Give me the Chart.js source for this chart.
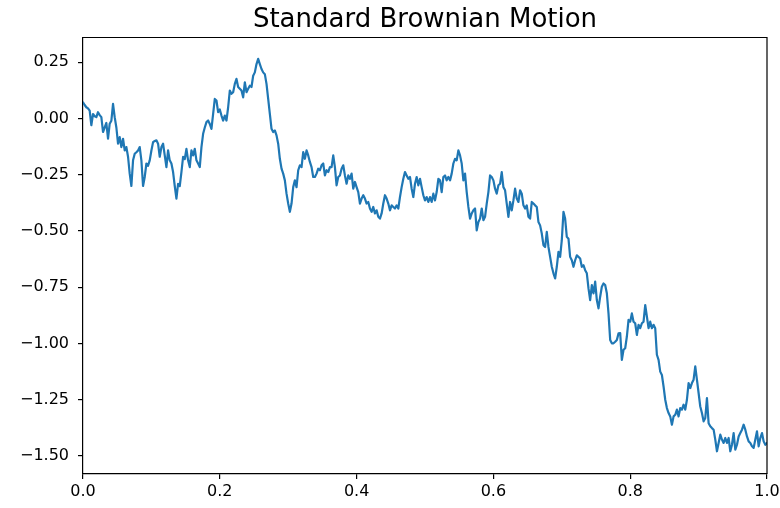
<!DOCTYPE html>
<html>
<head>
<meta charset="utf-8">
<title>Standard Brownian Motion</title>
<script src="https://cdn.jsdelivr.net/npm/chart.js@4/dist/chart.umd.min.js"></script>
<style>
  html, body { margin: 0; padding: 0; background: #fff; }
  #wrap { width: 780px; height: 508px; }
</style>
</head>
<body>
<div id="wrap"><canvas id="chart" width="780" height="508"></canvas></div>
<script>
// Title and axis ticks
const chartTitle = 'Standard Brownian Motion';
const xTicks = [0.0, 0.2, 0.4, 0.6, 0.8, 1.0];
const yTicks = [-1.50, -1.25, -1.00, -0.75, -0.50, -0.25, 0.00, 0.25];
const xRange = [0, 1];
const yRange = [-1.58, 0.36];

// Sampled path W(t), evenly spaced over t in [0, 1]
const pathStart = [
  0.072, 0.06, 0.05, 0.045, 0.035, -0.03, 0.02, 0.01, 0.006, 0.028,
  0.015, 0.006, -0.06, -0.04, -0.02, -0.09, -0.023, -0.01, 0.065, 0.006,
  -0.04, -0.112, -0.083, -0.127, -0.09, -0.142, -0.127, -0.17, -0.245, -0.30,
  -0.186, -0.157, -0.15, -0.142, -0.127, -0.186, -0.30, -0.26, -0.20, -0.21,
  -0.186, -0.142, -0.105, -0.10, -0.097, -0.112, -0.17, -0.127, -0.112, -0.164,
  -0.216, -0.142, -0.186, -0.20, -0.238, -0.30, -0.356, -0.29, -0.30, -0.238,
  -0.17, -0.18, -0.135, -0.186, -0.216, -0.142, -0.164, -0.135, -0.186, -0.20
];
const pathPeak = [
  -0.216, -0.127, -0.068, -0.04, -0.016, -0.009, -0.024, -0.046, 0.021, 0.087,
  0.08, 0.028, 0.04, 0.013, -0.009, 0.013, -0.009, 0.05, 0.124, 0.11,
  0.117, 0.154, 0.176, 0.14, 0.132, 0.124, 0.094, 0.161, 0.117, 0.132,
  0.146, 0.14, 0.19, 0.205, 0.242, 0.265, 0.242, 0.22, 0.205, 0.197,
  0.154, 0.087, 0.021, -0.046, -0.06, -0.053, -0.075, -0.112, -0.179, -0.223,
  -0.245, -0.275, -0.334, -0.378, -0.415, -0.378, -0.305, -0.275, -0.305, -0.23,
  -0.208, -0.216, -0.149, -0.179, -0.142, -0.164, -0.193, -0.216, -0.26, -0.26,
  -0.245, -0.223
];
const pathMiddle = [
  -0.23, -0.208, -0.20, -0.253, -0.23, -0.238, -0.216, -0.216, -0.164, -0.216,
  -0.297, -0.26, -0.253, -0.223, -0.208, -0.253, -0.29, -0.253, -0.268, -0.245,
  -0.312, -0.282, -0.305, -0.327, -0.378, -0.356, -0.341, -0.356, -0.378, -0.371,
  -0.40, -0.415, -0.393, -0.422, -0.408, -0.437, -0.445, -0.422, -0.378, -0.341,
  -0.356, -0.378, -0.408, -0.386, -0.393, -0.40, -0.386, -0.40, -0.349, -0.305,
  -0.268, -0.238, -0.253, -0.268, -0.26, -0.312, -0.349, -0.29, -0.26, -0.297,
  -0.268, -0.305, -0.341, -0.364, -0.349, -0.371, -0.349, -0.371, -0.334, -0.364,
  -0.327, -0.268
];
const pathPlateau = [
  -0.275, -0.327, -0.26, -0.253, -0.275, -0.26, -0.275, -0.245, -0.20, -0.179,
  -0.186, -0.142, -0.164, -0.20, -0.275, -0.245, -0.327, -0.393, -0.445, -0.422,
  -0.408, -0.40, -0.497, -0.46, -0.445, -0.40, -0.452, -0.437, -0.378, -0.327,
  -0.253, -0.26, -0.275, -0.312, -0.334, -0.297, -0.29, -0.238, -0.305, -0.319,
  -0.378, -0.437, -0.371, -0.408, -0.364, -0.312, -0.356, -0.371, -0.319, -0.334,
  -0.386, -0.40, -0.386, -0.437
];
const pathDecline = [
  -0.445, -0.371, -0.378, -0.386, -0.393, -0.46, -0.475, -0.511, -0.563, -0.571,
  -0.504, -0.571, -0.615, -0.659, -0.688, -0.711, -0.659, -0.593, -0.615, -0.541,
  -0.415, -0.445, -0.526, -0.534, -0.615, -0.63, -0.659, -0.63, -0.608, -0.615,
  -0.622, -0.659, -0.652, -0.674, -0.688, -0.755, -0.807, -0.74, -0.777, -0.725,
  -0.807, -0.844, -0.792, -0.748, -0.733, -0.74, -0.777, -0.866, -0.984, -0.999,
  -0.999, -0.992, -0.984, -0.955
];
const pathEnd = [
  -0.954, -1.073, -1.028, -1.021, -0.969, -0.895, -0.903, -0.866, -0.903, -0.91,
  -0.962, -0.917, -0.932, -0.91, -0.903, -0.829, -0.88, -0.932, -0.903, -0.932,
  -0.917, -0.932, -1.05, -1.073, -1.125, -1.14, -1.191, -1.25, -1.287, -1.309,
  -1.324, -1.361, -1.324, -1.317, -1.294, -1.324, -1.287, -1.294, -1.272, -1.294,
  -1.25, -1.176, -1.198, -1.176, -1.161, -1.102, -1.161, -1.22, -1.28, -1.309,
  -1.346, -1.331, -1.243, -1.354, -1.368, -1.376, -1.383, -1.427, -1.479, -1.442,
  -1.405, -1.427, -1.442, -1.42, -1.442, -1.42, -1.479, -1.45, -1.398, -1.472,
  -1.45, -1.413, -1.398, -1.383, -1.361, -1.383, -1.413, -1.435, -1.442, -1.457,
  -1.464, -1.427, -1.39, -1.457, -1.42, -1.398, -1.435, -1.45, -1.442
];

const pathValues = [].concat(pathStart, pathPeak, pathMiddle, pathPlateau, pathDecline, pathEnd);
const lastIndex = pathValues.length - 1;
const points = pathValues.map((w, i) => ({ x: i / lastIndex, y: w }));

const FONT = "'DejaVu Sans', 'Liberation Sans', sans-serif";
const INK = '#000000';

// Closes the frame with the top and right edges
const frameEdges = {
  id: 'frameEdges',
  afterDraw(chart) {
    const { ctx, chartArea: a } = chart;
    ctx.save();
    ctx.strokeStyle = INK;
    ctx.lineWidth = 1.2;
    ctx.beginPath();
    ctx.moveTo(a.left, a.top);
    ctx.lineTo(a.right, a.top);
    ctx.lineTo(a.right, a.bottom);
    ctx.stroke();
    ctx.restore();
  }
};

const minusSign = (v, digits) => {
  const s = Math.abs(v).toFixed(digits);
  return v < -1e-9 ? '\u2212' + s : s;
};

new Chart(document.getElementById('chart'), {
  type: 'line',
  data: {
    datasets: [{
      data: points,
      borderColor: '#1f77b4',
      borderWidth: 2.2,
      pointRadius: 0,
      tension: 0,
      fill: false,
      borderJoinStyle: 'round',
      borderCapStyle: 'round'
    }]
  },
  options: {
    responsive: false,
    animation: false,
    layout: { padding: { left: 0, right: 13, top: 0, bottom: 0 } },
    plugins: {
      legend: { display: false },
      tooltip: { enabled: false },
      title: {
        display: true,
        text: chartTitle,
        fullSize: false,
        color: INK,
        font: { family: FONT, size: 26, weight: 'normal' },
        padding: { top: 5, bottom: 1.3 }
      }
    },
    scales: {
      x: {
        type: 'linear',
        min: xRange[0],
        max: xRange[1],
        afterBuildTicks: (s) => { s.ticks = xTicks.map(v => ({ value: v })); },
        afterFit: (s) => { s.height = 34; s.paddingLeft = 0; s.paddingRight = 0; },
        grid: { display: true, drawOnChartArea: false, drawTicks: true, tickLength: 5, color: INK, lineWidth: 1.2 },
        border: { display: true, color: INK, width: 1.2 },
        ticks: {
          color: INK,
          padding: 3,
          maxRotation: 0,
          autoSkip: false,
          font: { family: FONT, size: 16 },
          callback: (v) => minusSign(v, 1)
        }
      },
      y: {
        type: 'linear',
        min: yRange[0],
        max: yRange[1],
        afterBuildTicks: (s) => { s.ticks = yTicks.map(v => ({ value: v })); },
        afterFit: (s) => { s.width = 83; s.paddingTop = 0; s.paddingBottom = 0; },
        grid: { display: true, drawOnChartArea: false, drawTicks: true, tickLength: 5, color: INK, lineWidth: 1.2 },
        border: { display: true, color: INK, width: 1.2 },
        ticks: {
          color: INK,
          padding: 9,
          autoSkip: false,
          font: { family: FONT, size: 16 },
          callback: (v) => minusSign(v, 2)
        }
      }
    }
  },
  plugins: [frameEdges]
});
</script>
</body>
</html>
